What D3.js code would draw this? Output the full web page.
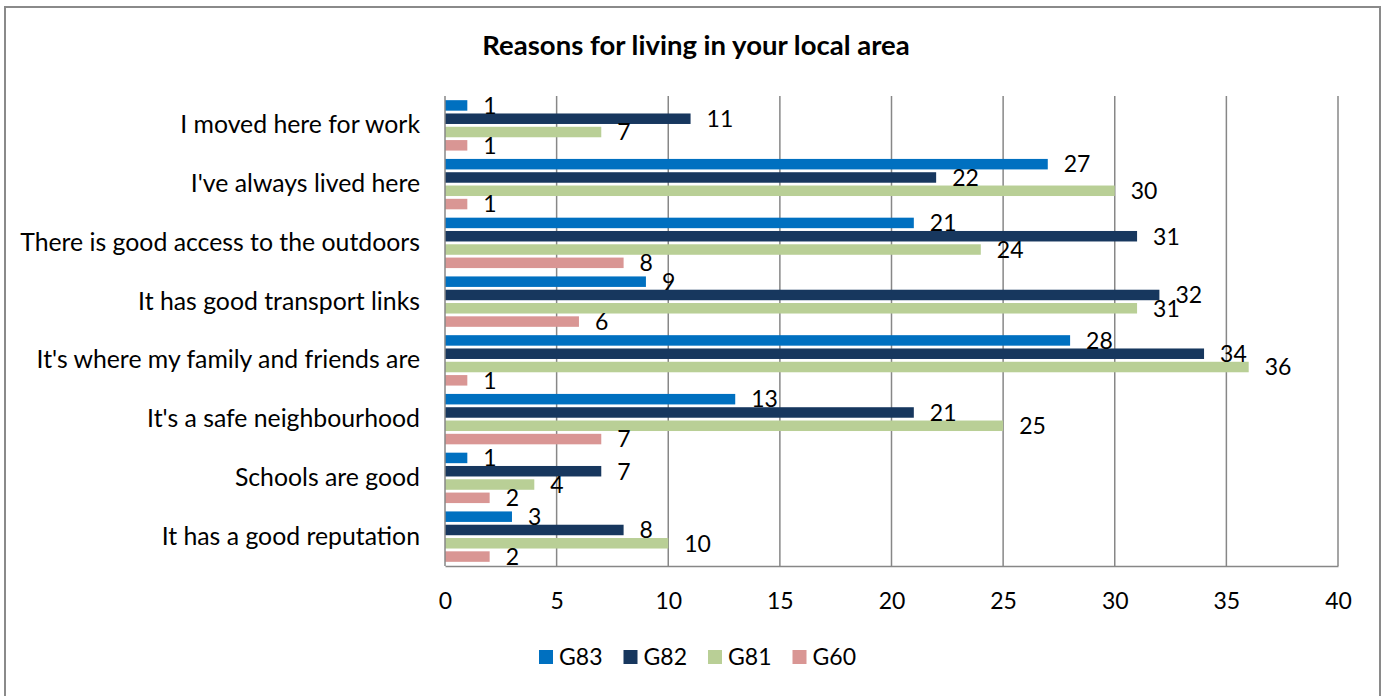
<!DOCTYPE html>
<html>
<head>
<meta charset="utf-8">
<script src="https://cdn.jsdelivr.net/npm/d3@7"></script>
<style>
  html, body { margin: 0; padding: 0; background: #fff; }
  svg { display: block; }
  text { font-family: Lato, "Open Sans", sans-serif; fill: #000; }
</style>
</head>
<body>
<svg id="chart" width="1386" height="696"></svg>
<script>
// Survey responses: reasons for living in the local area, by group
const categories = [
  "I moved here for work",
  "I've always lived here",
  "There is good access to the outdoors",
  "It has good transport links",
  "It's where my family and friends are",
  "It's a safe neighbourhood",
  "Schools are good",
  "It has a good reputation"
];
const seriesNames = ["G83", "G82", "G81", "G60"];
const g83 = [1, 27, 21, 9, 28, 13, 1, 3];
const g82 = [11, 22, 31, 32, 34, 21, 7, 8];
const g81 = [7, 30, 24, 31, 36, 25, 4, 10];
const g60 = [1, 1, 8, 6, 1, 7, 2, 2];
const xTicks = [0, 5, 10, 15, 20, 25, 30, 35, 40];
const colors = ["#0070C0", "#17375E", "#B9CF96", "#D99694"];

const seriesValues = [g83, g82, g81, g60];

const svg = d3.select("#chart");
const plot = { left: 445, right: 1338, top: 96, bottom: 566 };

// outer chart frame
svg.append("rect")
  .attr("x", 5).attr("y", 7)
  .attr("width", 1375).attr("height", 720)
  .attr("fill", "#fff")
  .attr("stroke", "#8a8a8a")
  .attr("stroke-width", 2);

// title
svg.append("text")
  .attr("x", 696).attr("y", 55)
  .attr("text-anchor", "middle")
  .attr("font-size", 27.5)
  .attr("font-weight", "bold")
  .text("Reasons for living in your local area");

const x = d3.scaleLinear().domain([0, 40]).range([plot.left, plot.right]);
const y0 = d3.scaleBand().domain(categories).range([plot.top, plot.bottom]).paddingInner(0).paddingOuter(0);

// vertical gridlines
svg.append("g")
  .selectAll("line")
  .data(xTicks.slice(1))
  .join("line")
  .attr("x1", d => x(d)).attr("x2", d => x(d))
  .attr("y1", plot.top).attr("y2", plot.bottom)
  .attr("stroke", "#878787")
  .attr("stroke-width", 1.5);

// x axis (labels only, plus baseline)
const xAxis = d3.axisBottom(x).tickValues(xTicks).tickSize(0).tickPadding(0).tickFormat(d3.format("d"));
const gx = svg.append("g")
  .attr("transform", `translate(0,${plot.bottom})`)
  .call(xAxis);
gx.select(".domain").attr("stroke", "#878787").attr("stroke-width", 1.5);
gx.selectAll("text")
  .attr("font-family", "Lato, 'Open Sans', sans-serif")
  .attr("font-size", 23)
  .attr("fill", "#000")
  .attr("dy", 0)
  .attr("y", 43);

// y axis (category labels)
const yAxis = d3.axisLeft(y0).tickSize(0).tickPadding(25);
const gy = svg.append("g")
  .attr("transform", `translate(${plot.left},0)`)
  .call(yAxis);
gy.select(".domain").remove();
gy.selectAll("text")
  .attr("font-family", "Lato, 'Open Sans', sans-serif")
  .attr("font-size", 24.8)
  .attr("fill", "#000");

// grouped bars: 4 bars per category with small gaps
const barStep = 13.3;
const barH = 10.5;
const groupH = barStep * (seriesNames.length - 1) + barH;
const groupOffset = (y0.bandwidth() - groupH) / 2;

const rows = [];
categories.forEach((c, ci) => {
  seriesNames.forEach((s, si) => {
    rows.push({ cat: c, si, value: seriesValues[si][ci] });
  });
});

const barY = d => y0(d.cat) + groupOffset + d.si * barStep;

svg.append("g")
  .selectAll("rect")
  .data(rows)
  .join("rect")
  .attr("x", x(0))
  .attr("y", barY)
  .attr("width", d => x(d.value) - x(0))
  .attr("height", barH)
  .attr("fill", d => colors[d.si]);

// left axis line drawn over bar ends
svg.append("line")
  .attr("x1", plot.left).attr("x2", plot.left)
  .attr("y1", plot.top).attr("y2", plot.bottom)
  .attr("stroke", "#878787").attr("stroke-width", 1.5);

// data labels at bar ends
svg.append("g")
  .selectAll("text")
  .data(rows)
  .join("text")
  .attr("x", d => x(d.value) + 16)
  .attr("y", d => barY(d) + barH / 2)
  .attr("dy", "0.36em")
  .attr("font-size", 23)
  .text(d => d.value);

// legend
const legend = svg.append("g").attr("transform", "translate(539,650)");
const item = legend.selectAll("g")
  .data(seriesNames)
  .join("g")
  .attr("transform", (d, i) => `translate(${i * 84.5},0)`);
item.append("rect")
  .attr("width", 14).attr("height", 14)
  .attr("fill", (d, i) => colors[i]);
item.append("text")
  .attr("x", 20).attr("y", 7)
  .attr("dy", "0.36em")
  .attr("font-size", 23)
  .text(d => d);
</script>
</body>
</html>
